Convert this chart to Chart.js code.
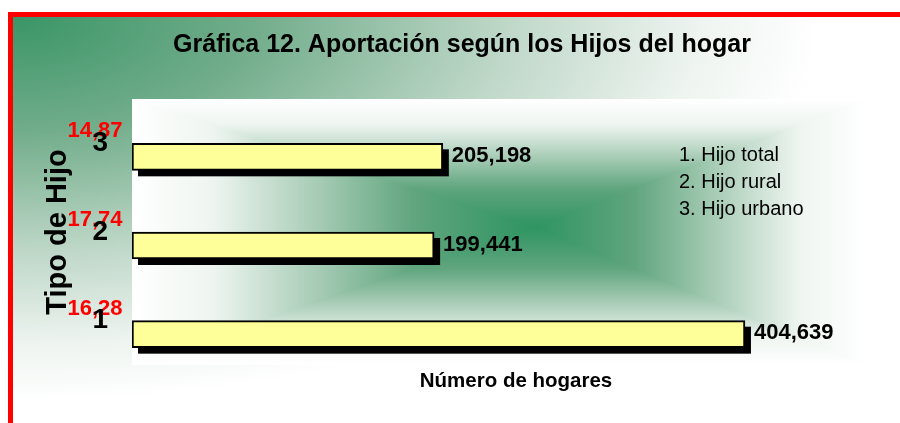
<!DOCTYPE html>
<html>
<head>
<meta charset="utf-8">
<script src="https://cdn.jsdelivr.net/npm/chart.js@4.4.1/dist/chart.umd.min.js"></script>
<style>
  html, body { margin: 0; padding: 0; background: #fff; }
  #wrap { width: 900px; height: 423px; }
</style>
</head>
<body>
<div id="wrap"><canvas id="chart"></canvas></div>
<script>
const categories = ['1', '2', '3'];
const hogares = [404639, 199441, 205198];
const porcentajes = [16.28, 17.74, 14.87];
const leyenda = ['1. Hijo total', '2. Hijo rural', '3. Hijo urbano'];
const xMax = 507000;

const FONT = '"Liberation Sans", Arial, sans-serif';
const DEPTH = 13.5; // bars sit a bit below their category line (3D look)

const fondo = {
  id: 'fondo',
  beforeDraw(chart) {
    const { ctx, width, height, chartArea: a } = chart;
    ctx.save();
    ctx.fillStyle = '#fff';
    ctx.fillRect(0, 0, width, height);

    // outer area, elliptical gradient from the top-left corner
    ctx.save();
    ctx.beginPath();
    ctx.rect(13, 17, width - 13, height - 17);
    ctx.clip();
    ctx.translate(13, 17);
    ctx.scale(2.1, 1);
    const g = ctx.createRadialGradient(0, 0, 0, 0, 0, 385);
    g.addColorStop(0, '#3a9566');
    g.addColorStop(0.3, '#72ad8b');
    g.addColorStop(0.6, '#bcd6c6');
    g.addColorStop(0.85, '#eef4f0');
    g.addColorStop(1, '#ffffff');
    ctx.fillStyle = g;
    ctx.fillRect(0, 0, width, height);
    ctx.restore();

    // plot area, rectangular gradient from the centre
    const L = a.left, T = a.top, R = a.right - 35, B = a.bottom;
    const cx = Math.round(L + (R - L) * 0.55), cy = Math.round(T + (B - T) * 0.48);
    const stops = [[0, '#2e9462'], [0.3, '#60a57e'], [0.55, '#a9cdb7'], [0.8, '#eef5f0'], [1, '#ffffff']];
    const grad = (ex, ey) => {
      const lg = ctx.createLinearGradient(cx, cy, ex, ey);
      stops.forEach(s => lg.addColorStop(s[0], s[1]));
      return lg;
    };
    // top and bottom halves first, then the side triangles over them
    ctx.fillStyle = grad(cx, T);
    ctx.fillRect(L, T, R - L, cy - T);
    ctx.fillStyle = grad(cx, B);
    ctx.fillRect(L, cy, R - L, B - cy);
    const tri = (p1, p2, ex, ey) => {
      ctx.fillStyle = grad(ex, ey);
      ctx.beginPath();
      ctx.moveTo(cx, cy);
      ctx.lineTo(p1[0], p1[1]);
      ctx.lineTo(p2[0], p2[1]);
      ctx.closePath();
      ctx.fill();
    };
    tri([R, T], [R, B], R, cy);
    tri([L, B], [L, T], L, cy);

    // red frame
    ctx.fillStyle = '#ff0000';
    ctx.fillRect(8, 12, width - 8, 5);
    ctx.fillRect(8, 12, 5, height - 12);

    // red percentages above the category labels
    const y = chart.scales.y;
    ctx.font = 'bold 22px ' + FONT;
    ctx.textAlign = 'center';
    ctx.textBaseline = 'middle';
    porcentajes.forEach((p, i) => {
      ctx.fillText(p.toFixed(2).replace('.', ','), y.right - 37, y.getPixelForValue(i) - 12);
    });
    ctx.restore();
  }
};

const barras = {
  id: 'barras',
  beforeDatasetsDraw(chart) {
    const { ctx } = chart;
    ctx.save();
    ctx.translate(0, DEPTH);
    ctx.fillStyle = '#000';
    chart.getDatasetMeta(0).data.forEach(bar => {
      const { x, y, base, height } = bar.getProps(['x', 'y', 'base', 'height'], true);
      ctx.fillRect(base + 6, y - height / 2 + 6, x - base, height);
    });
  },
  afterDatasetsDraw(chart) {
    const { ctx } = chart;
    ctx.fillStyle = '#000';
    ctx.font = 'bold 22px ' + FONT;
    ctx.textAlign = 'left';
    ctx.textBaseline = 'middle';
    chart.getDatasetMeta(0).data.forEach((bar, i) => {
      ctx.fillText(hogares[i].toLocaleString('en-US'), bar.x + 9, bar.y - 1);
    });
    ctx.restore();

    // text legend
    ctx.save();
    ctx.fillStyle = '#000';
    ctx.font = '20px ' + FONT;
    ctx.textAlign = 'left';
    ctx.textBaseline = 'alphabetic';
    leyenda.forEach((t, i) => ctx.fillText(t, 679, 161 + i * 27));
    ctx.restore();
  }
};

new Chart(document.getElementById('chart'), {
  type: 'bar',
  data: {
    labels: categories,
    datasets: [{
      data: hogares,
      backgroundColor: '#ffff99',
      borderColor: '#000',
      borderWidth: 2,
      borderSkipped: false,
      barThickness: 27
    }]
  },
  options: {
    indexAxis: 'y',
    responsive: true,
    maintainAspectRatio: false,
    animation: false,
    layout: { padding: { left: 24, right: 0, top: 0, bottom: 0 } },
    plugins: {
      legend: { display: false },
      tooltip: { enabled: false },
      title: {
        display: true,
        text: 'Gráfica 12. Aportación según los Hijos del hogar',
        color: '#000',
        font: { family: FONT, size: 25, weight: 'bold' },
        padding: { top: 30, bottom: 39 }
      }
    },
    scales: {
      x: {
        min: 0,
        max: xMax,
        grid: { display: false },
        border: { display: false },
        ticks: { display: false },
        title: {
          display: true,
          text: 'Número de hogares',
          color: '#000',
          font: { family: FONT, size: 20.5, weight: 'bold' },
          padding: { top: 0, bottom: 29 }
        },
        afterFit(s) { s.height = 58; }
      },
      y: {
        reverse: true,
        grid: { display: false, drawTicks: false },
        border: { display: false },
        ticks: { color: '#000', font: { family: FONT, size: 28, weight: 'bold' }, padding: 24 },
        title: {
          display: true,
          text: 'Tipo de Hijo',
          color: '#000',
          font: { family: FONT, size: 29, weight: 'bold' },
          padding: { top: 17, bottom: 0 }
        },
        afterFit(s) { s.width = 108; }
      }
    }
  },
  plugins: [fondo, barras]
});
</script>
</body>
</html>
